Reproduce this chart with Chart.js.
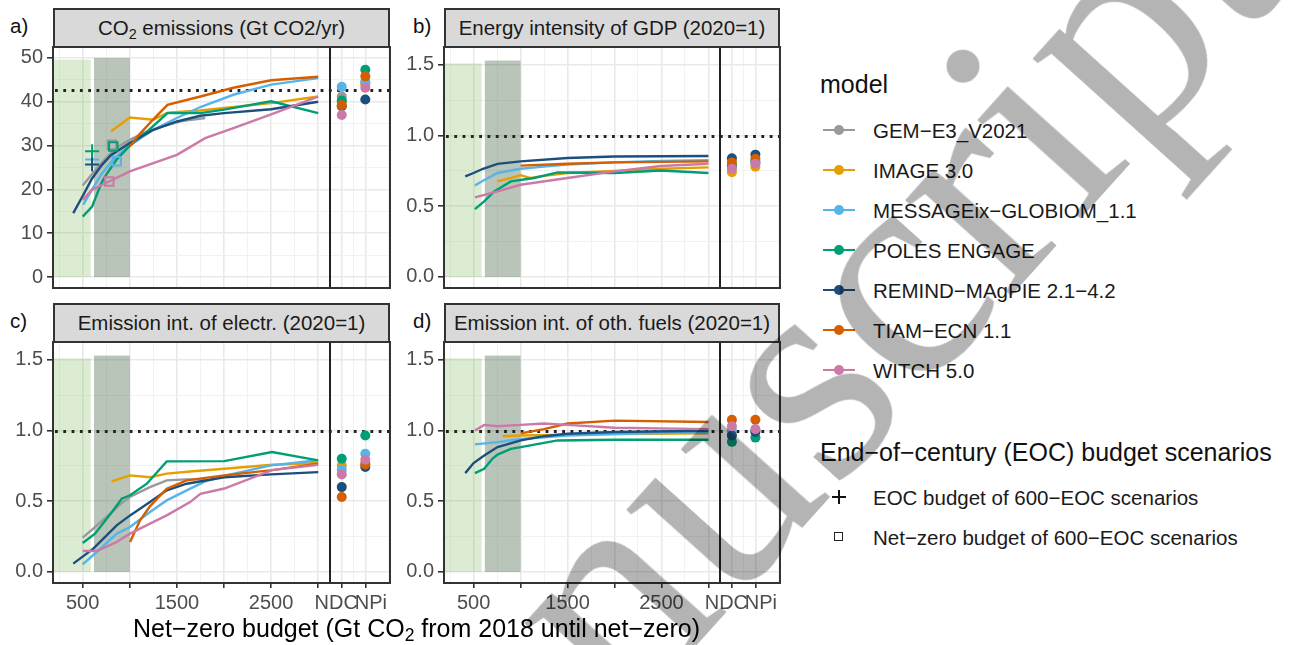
<!DOCTYPE html>
<html>
<head>
<meta charset="utf-8">
<script src="https://cdn.jsdelivr.net/npm/chart.js@4.4.1/dist/chart.umd.min.js"></script>
<style>
  html, body { margin: 0; padding: 0; background: #fff; }
  body { width: 1295px; height: 645px; position: relative; overflow: hidden;
         font-family: "Liberation Sans", Arial, sans-serif; }
  canvas { position: absolute; }
  sub { font-size: 0.7em; vertical-align: -0.25em; line-height: 0; }
  .strip { position: absolute; box-sizing: border-box; background: #d9d9d9;
           border: 2px solid #333; color: #1a1a1a; font-size: 20.5px;
           line-height: 35px; text-align: center; white-space: nowrap; }
  .tag { position: absolute; font-size: 20.5px; line-height: 20.5px; color: #111; }
  .axis-title { position: absolute; left: 53px; width: 727px; top: 615.5px; text-align: center;
                font-size: 25px; line-height: 25px; color: #000; white-space: nowrap; }
  .lg-title { position: absolute; left: 820px; font-size: 25px; line-height: 25px; color: #111; white-space: nowrap; }
  .lg-item { position: absolute; left: 873px; font-size: 20.5px; line-height: 20.5px; color: #1a1a1a; white-space: nowrap; }
  .lg-key { position: absolute; }
  .watermark { position: absolute; left: 756px; top: 423px; transform: translate(-50%, -50%) rotate(-48deg);
               font-family: "Liberation Serif", "DejaVu Serif", serif; font-size: 311px; line-height: 1;
               color: #b4b4b4; mix-blend-mode: multiply; white-space: nowrap; pointer-events: none; }
</style>
</head>
<body>

<div class="strip" style="left:53px;top:8px;width:337px;height:40px;">CO<sub>2</sub> emissions (Gt CO2/yr)</div>
<div class="strip" style="left:444px;top:8px;width:336px;height:40px;">Energy intensity of GDP (2020=1)</div>
<div class="strip" style="left:53px;top:303px;width:337px;height:40px;">Emission int. of electr. (2020=1)</div>
<div class="strip" style="left:444px;top:303px;width:336px;height:40px;">Emission int. of oth. fuels (2020=1)</div>

<div class="tag" style="left:10px;top:16px;">a)</div>
<div class="tag" style="left:413px;top:16px;">b)</div>
<div class="tag" style="left:10px;top:311px;">c)</div>
<div class="tag" style="left:413px;top:311px;">d)</div>

<canvas id="pA" width="393" height="281" style="left:0px;top:45px;"></canvas>
<canvas id="pB" width="392" height="281" style="left:391px;top:45px;"></canvas>
<canvas id="pC" width="393" height="281" style="left:0px;top:340px;"></canvas>
<canvas id="pD" width="392" height="281" style="left:391px;top:340px;"></canvas>

<div class="axis-title">Net−zero budget (Gt CO<sub>2</sub> from 2018 until net−zero)</div>

<div id="legend"></div>

<div class="watermark">manuscript</div>

<script>
// ---- models ----
const modelNames = ['GEM−E3_V2021', 'IMAGE 3.0', 'MESSAGEix−GLOBIOM_1.1', 'POLES ENGAGE',
                    'REMIND−MAgPIE 2.1−4.2', 'TIAM−ECN 1.1', 'WITCH 5.0'];
const modelColors = ['#999999', '#E69F00', '#56B4E9', '#009E73', '#1B4F7D', '#D55E00', '#CC79A7'];

// ---- x axis: net-zero budget, then the NDC / NPi reference scenarios ----
const xTickValues = [500, 1000, 1500, 2000, 2500, 3000, 3250, 3500];
const xTickLabels = ['500', '', '1500', '', '2500', '', 'NDC\u00a0\u00a0', '\u00a0\u00a0NPi'];
const xRange = [185, 3762];
const ndcX = 3250;
const npiX = 3500;
const dividerX = 3125;

// ---- shaded budget ranges (Gt CO2) ----
const lowBudgetRange = [-1000, 585];
const eocBudgetRange = [620, 1000];

// ---- y axes ----
const co2TickValues = [0, 10, 20, 30, 40, 50];
const co2TickLabels = ['0', '10', '20', '30', '40', '50'];
const co2Range = [-2.5, 52.5];
const co2ShadeTops = [49.6, 50];
const indexTickValues = [0, 0.5, 1.0, 1.5];
const indexTickLabels = ['0.0', '0.5', '1.0', '1.5'];
const indexRange = [-0.078, 1.626];
const indexShadeTops = [1.51, 1.53];

// ---- a) CO2 emissions (Gt CO2/yr) ----
const co2_GEM     = [[500,20.9],[600,23.5],[750,27.2],[860,29.5],[1000,31.3],[1150,32.9],[1350,34.4],[1550,35.6],[1800,36.3]];
const co2_IMAGE   = [[800,33.2],[1000,36.4],[1250,35.9],[1400,37.5],[1750,38.0],[2000,38.6],[2500,39.7],[3000,41.2]];
const co2_MESSAGE = [[506,16.5],[600,20.0],[700,23.5],[800,26.2],[900,28.3],[1000,30.0],[1250,33.6],[1500,36.3],[1750,38.8],[2100,41.6],[2500,43.9],[3000,45.4]];
const co2_POLES   = [[500,13.8],[600,16.1],[700,21.5],[760,23.7],[860,26.8],[1000,30.0],[1200,33.5],[1400,37.4],[1750,37.4],[2000,38.2],[2500,40.1],[3000,37.4]];
const co2_REMIND  = [[400,14.6],[500,18.5],[600,22.5],[700,25.5],[800,27.8],[1000,30.6],[1250,33.6],[1500,35.5],[1750,36.8],[2000,37.4],[2500,38.3],[3000,40.0]];
const co2_TIAM    = [[1000,29.8],[1100,32.5],[1250,36.0],[1400,39.3],[1750,41.2],[2100,43.2],[2500,44.9],[3000,45.7]];
const co2_WITCH   = [[500,17.6],[600,19.9],[700,21.0],[780,21.8],[1000,24.1],[1250,26.0],[1500,27.9],[1800,31.7],[2100,34.0],[2500,37.1],[3000,41.2]];
const co2_NDC     = [41.2, 40.0, 43.4, 40.3, 39.0, 39.2, 37.0];
const co2_NPi     = [44.3, 44.0, 44.6, 47.3, 40.5, 45.8, 43.2];
const co2_eocBudget = 600;
const co2_eocCross  = [null, null, 26.8, 28.7, 25.7, null, null];
const co2_nzBudget  = [810, null, 861, 825, null, null, 782];
const co2_nzValue   = [30.2, null, 26.4, 29.8, null, null, 21.8];
const co2Reference  = 42.8;

// ---- b) energy intensity of GDP (2020=1) ----
const ei_GEM     = [];
const ei_IMAGE   = [[755,0.676],[900,0.70],[1000,0.72],[1100,0.70],[1250,0.715],[1500,0.735],[2000,0.75],[2500,0.765],[3000,0.775]];
const ei_MESSAGE = [[514,0.647],[600,0.68],[755,0.735],[1000,0.765],[1250,0.78],[1500,0.795],[2000,0.81],[2500,0.82],[3000,0.825]];
const ei_POLES   = [[514,0.48],[613,0.534],[720,0.605],[897,0.676],[1145,0.70],[1394,0.739],[2000,0.735],[2493,0.753],[3000,0.735]];
const ei_REMIND  = [[411,0.711],[500,0.735],[600,0.765],[755,0.80],[1000,0.817],[1500,0.841],[2000,0.852],[3000,0.855]];
const ei_TIAM    = [[1000,0.787],[1500,0.80],[2000,0.81],[3000,0.817]];
const ei_WITCH   = [[514,0.563],[755,0.605],[1000,0.652],[1500,0.70],[2000,0.747],[2493,0.785],[3000,0.80]];
const ei_NDC     = [null, 0.74, 0.78, 0.79, 0.84, 0.81, 0.765];
const ei_NPi     = [null, 0.78, 0.82, 0.81, 0.865, 0.835, 0.80];

// ---- c) emission intensity of electricity (2020=1) ----
const el_GEM     = [[500,0.243],[600,0.30],[790,0.41],[900,0.48],[1000,0.53],[1214,0.60],[1392,0.648],[1600,0.655],[1800,0.655]];
const el_IMAGE   = [[808,0.64],[1003,0.683],[1214,0.67],[1392,0.695],[1640,0.71],[2003,0.73],[2510,0.758],[3000,0.77]];
const el_MESSAGE = [[500,0.054],[649,0.141],[861,0.271],[1003,0.318],[1214,0.424],[1392,0.506],[1604,0.577],[1800,0.64],[2000,0.68],[2500,0.754],[3000,0.79]];
const el_POLES   = [[500,0.205],[631,0.271],[825,0.436],[914,0.518],[1003,0.542],[1181,0.624],[1392,0.782],[2003,0.784],[2510,0.848],[3000,0.789]];
const el_REMIND  = [[400,0.059],[613,0.165],[861,0.33],[1003,0.40],[1214,0.494],[1392,0.577],[1604,0.624],[2003,0.67],[2500,0.69],[3000,0.706]];
const el_TIAM    = [[1003,0.212],[1109,0.365],[1214,0.464],[1392,0.589],[1604,0.648],[2003,0.683],[2510,0.72],[3000,0.766]];
const el_WITCH   = [[500,0.148],[649,0.148],[861,0.212],[1003,0.271],[1214,0.342],[1392,0.40],[1640,0.494],[1750,0.553],[2003,0.59],[2510,0.72],[3000,0.757]];
const el_NDC     = [null, 0.753, 0.723, 0.80, 0.60, 0.53, 0.69];
const el_NPi     = [null, 0.77, 0.836, 0.965, 0.742, 0.76, 0.794];

// ---- d) emission intensity of other fuels (2020=1) ----
const of_GEM     = [];
const of_IMAGE   = [[808,0.96],[1003,0.965],[2000,0.975],[3000,0.98]];
const of_MESSAGE = [[514,0.902],[755,0.918],[1003,0.94],[1500,0.965],[2000,0.975],[3000,0.99]];
const of_POLES   = [[514,0.699],[613,0.73],[700,0.80],[755,0.83],[897,0.87],[1003,0.883],[1394,0.93],[2003,0.935],[3000,0.935]];
const of_REMIND  = [[411,0.699],[500,0.77],[613,0.824],[755,0.883],[1003,0.93],[1250,0.96],[1500,0.977],[2003,0.99],[3000,0.998]];
const of_TIAM    = [[1003,0.98],[1250,1.01],[1500,1.05],[2003,1.07],[3000,1.06]];
const of_WITCH   = [[514,1.0],[613,1.04],[755,1.03],[1003,1.04],[1250,1.05],[1500,1.04],[2003,1.02],[3000,1.01]];
const of_NDC     = [null, 0.99, 1.0, 0.92, 0.965, 1.076, 1.03];
const of_NPi     = [null, 1.0, 1.0, 0.95, 0.99, 1.076, 1.01];
const indexReference = 1.0;

// ---------------------------------------------------------------------------
Chart.defaults.font.family = '"Liberation Sans", Arial, sans-serif';
Chart.defaults.font.size = 20;
Chart.defaults.color = '#4d4d4d';

// midpoints between major breaks, extended one step beyond each end
function minorBreaks(major, range) {
  const b = major.slice();
  const step = b[1] - b[0];
  b.unshift(b[0] - step);
  b.push(b[b.length - 1] + step);
  const out = [];
  for (let i = 0; i < b.length - 1; i++) out.push((b[i] + b[i + 1]) / 2);
  return out.filter(v => v > range[0] && v < range[1]);
}

function tickList(major, range) {
  const ticks = major.map(v => ({ value: v, major: true }))
    .concat(minorBreaks(major, range).map(v => ({ value: v, major: false })));
  ticks.sort((a, b) => a.value - b.value);
  return ticks;
}

function isMajorValue(major, v) {
  return major.some(m => Math.abs(m - v) < 1e-9);
}

// shading, reference line, scenario divider and panel frame
const panelDeco = {
  id: 'panelDeco',
  beforeDatasetsDraw(chart, args, opts) {
    const { ctx, chartArea: a, scales: { x, y } } = chart;
    ctx.save();
    ctx.beginPath();
    ctx.rect(a.left, a.top, a.right - a.left, a.bottom - a.top);
    ctx.clip();
    const y0 = y.getPixelForValue(0);
    const lx0 = Math.max(a.left, x.getPixelForValue(lowBudgetRange[0]));
    const lx1 = x.getPixelForValue(lowBudgetRange[1]);
    const ly = y.getPixelForValue(opts.shadeTops[0]);
    ctx.fillStyle = 'rgba(110,180,80,0.25)';
    ctx.fillRect(lx0, ly, lx1 - lx0, y0 - ly);
    const dx0 = x.getPixelForValue(eocBudgetRange[0]);
    const dx1 = x.getPixelForValue(eocBudgetRange[1]);
    const dy = y.getPixelForValue(opts.shadeTops[1]);
    ctx.fillStyle = 'rgba(40,80,40,0.33)';
    ctx.fillRect(dx0, dy, dx1 - dx0, y0 - dy);

    const ry = Math.round(y.getPixelForValue(opts.reference)) + 0.5;
    ctx.strokeStyle = '#222';
    ctx.lineWidth = 2.8;
    ctx.setLineDash([2.8, 5.5]);
    ctx.beginPath();
    ctx.moveTo(a.left + 2, ry);
    ctx.lineTo(a.right, ry);
    ctx.stroke();

    ctx.setLineDash([]);
    ctx.lineWidth = 2;
    const vx = Math.round(x.getPixelForValue(dividerX));
    ctx.beginPath();
    ctx.moveTo(vx, a.top);
    ctx.lineTo(vx, a.bottom);
    ctx.stroke();
    ctx.restore();
  },
  afterDraw(chart) {
    const { ctx, chartArea: a } = chart;
    ctx.save();
    ctx.strokeStyle = '#333';
    ctx.lineWidth = 2;
    ctx.strokeRect(a.left, a.top, a.right - a.left, a.bottom - a.top);
    ctx.restore();
  }
};

function toPoints(pairs) {
  return pairs.map(([x, y]) => ({ x, y }));
}

// size and move the canvas so that its plot area covers the given page rectangle
function placePanel(chart, L, T, R, B) {
  for (let k = 0; k < 3; k++) {
    const a = chart.chartArea;
    const w = Math.round(chart.width + ((R - L) - (a.right - a.left)));
    const h = Math.round(chart.height + ((B - T) - (a.bottom - a.top)));
    if (w === chart.width && h === chart.height) break;
    chart.resize(w, h);
  }
  const a = chart.chartArea;
  chart.canvas.style.left = (L - a.left) + 'px';
  chart.canvas.style.top = (T - a.top) + 'px';
}

function makePanel(canvasId, rect, series, ndc, npi, yCfg, showX, extra) {
  const datasets = [];
  series.forEach((pairs, i) => {
    if (!pairs.length) return;
    datasets.push({
      type: 'line', data: toPoints(pairs), borderColor: modelColors[i], borderWidth: 2.4,
      pointRadius: 0, tension: 0, fill: false, order: 200 - i
    });
  });
  modelNames.forEach((name, i) => {
    const pts = [];
    if (ndc[i] !== null) pts.push({ x: ndcX, y: ndc[i] });
    if (npi[i] !== null) pts.push({ x: npiX, y: npi[i] });
    if (!pts.length) return;
    datasets.push({
      type: 'scatter', data: pts, backgroundColor: modelColors[i], borderWidth: 0,
      pointRadius: 5, pointHoverRadius: 5, order: 100 - i
    });
  });
  if (extra) extra.forEach(d => datasets.push(d));

  const xTicks = tickList(xTickValues, xRange);
  const yTicks = tickList(yCfg.values, yCfg.range);
  const xMajor = c => c.tick && isMajorValue(xTickValues, c.tick.value);
  const yMajor = c => c.tick && isMajorValue(yCfg.values, c.tick.value);

  const chart = new Chart(document.getElementById(canvasId), {
    data: { datasets },
    plugins: [panelDeco],
    options: {
      responsive: false, maintainAspectRatio: false, animation: false, devicePixelRatio: 1, events: [],
      layout: { padding: { left: 0, right: 3, top: 2, bottom: 0 } },
      plugins: {
        legend: { display: false }, tooltip: { enabled: false },
        panelDeco: { reference: yCfg.reference, shadeTops: yCfg.shadeTops }
      },
      scales: {
        x: {
          type: 'linear', min: xRange[0], max: xRange[1],
          afterBuildTicks: s => { s.ticks = xTicks.map(t => ({ value: t.value })); },
          afterFit: s => { s.height = 38; s.paddingLeft = 0; s.paddingRight = 0; },
          ticks: {
            display: true, autoSkip: false, maxRotation: 0, minRotation: 0, padding: 3,
            color: '#4d4d4d', font: { size: 20 },
            callback: (v) => {
              if (!showX) return '';
              const k = xTickValues.indexOf(v);
              return k >= 0 ? xTickLabels[k] : '';
            }
          },
          grid: {
            drawTicks: true, tickLength: 5, offset: false,
            color: c => xMajor(c) ? '#e9e9e9' : '#f1f1f1',
            lineWidth: c => xMajor(c) ? 1.6 : 0.9,
            tickColor: c => (showX && xMajor(c)) ? '#333' : 'rgba(0,0,0,0)',
            tickWidth: 1.6
          },
          border: { display: false }
        },
        y: {
          type: 'linear', min: yCfg.range[0], max: yCfg.range[1],
          afterBuildTicks: s => { s.ticks = yTicks.map(t => ({ value: t.value })); },
          afterFit: s => { s.width = 53; s.paddingTop = 0; s.paddingBottom = 0; },
          ticks: {
            autoSkip: false, padding: 4, color: '#4d4d4d', font: { size: 20 },
            callback: (v) => {
              const k = yCfg.values.findIndex(m => Math.abs(m - v) < 1e-9);
              return k >= 0 ? yCfg.labels[k] : '';
            }
          },
          grid: {
            drawTicks: true, tickLength: 6, offset: false,
            color: c => yMajor(c) ? '#e9e9e9' : '#f1f1f1',
            lineWidth: c => yMajor(c) ? 1.6 : 0.9,
            tickColor: c => yMajor(c) ? '#333' : 'rgba(0,0,0,0)',
            tickWidth: 1.6
          },
          border: { display: false }
        }
      }
    }
  });
  placePanel(chart, rect[0], rect[1], rect[2], rect[3]);
  return chart;
}

const co2Axis = { values: co2TickValues, labels: co2TickLabels, range: co2Range, reference: co2Reference, shadeTops: co2ShadeTops };
const indexAxis = { values: indexTickValues, labels: indexTickLabels, range: indexRange, reference: indexReference, shadeTops: indexShadeTops };

// EOC budget crosses and net-zero budget squares of the 600-EOC scenarios
const co2Markers = [];
modelNames.forEach((name, i) => {
  if (co2_eocCross[i] !== null) {
    co2Markers.push({
      type: 'scatter', data: [{ x: co2_eocBudget, y: co2_eocCross[i] }], pointStyle: 'cross',
      pointRadius: 7, borderColor: modelColors[i], borderWidth: 2, backgroundColor: modelColors[i], order: 50 - i
    });
  }
  if (co2_nzValue[i] !== null) {
    co2Markers.push({
      type: 'scatter', data: [{ x: co2_nzBudget[i], y: co2_nzValue[i] }], pointStyle: 'rect',
      pointRadius: 6, borderColor: modelColors[i], borderWidth: 2, backgroundColor: 'rgba(0,0,0,0)', order: 50 - i
    });
  }
});

makePanel('pA', [53, 47, 390, 288], [co2_GEM, co2_IMAGE, co2_MESSAGE, co2_POLES, co2_REMIND, co2_TIAM, co2_WITCH],
          co2_NDC, co2_NPi, co2Axis, false, co2Markers);
makePanel('pB', [444, 47, 780, 288], [ei_GEM, ei_IMAGE, ei_MESSAGE, ei_POLES, ei_REMIND, ei_TIAM, ei_WITCH],
          ei_NDC, ei_NPi, indexAxis, false);
makePanel('pC', [53, 342, 390, 583], [el_GEM, el_IMAGE, el_MESSAGE, el_POLES, el_REMIND, el_TIAM, el_WITCH],
          el_NDC, el_NPi, indexAxis, true);
makePanel('pD', [444, 342, 780, 583], [of_GEM, of_IMAGE, of_MESSAGE, of_POLES, of_REMIND, of_TIAM, of_WITCH],
          of_NDC, of_NPi, indexAxis, true);

// ---- legends ----
const legend = document.getElementById('legend');
function addEl(tag, cls, style, html) {
  const el = document.createElement(tag);
  if (cls) el.className = cls;
  el.setAttribute('style', style);
  if (html !== undefined) el.innerHTML = html;
  legend.appendChild(el);
  return el;
}
addEl('div', 'lg-title', 'top:72px;', 'model');
modelNames.forEach((name, i) => {
  const cy = 130 + i * 40;
  addEl('div', 'lg-item', 'top:' + (cy - 9.5) + 'px;', name);
  addEl('div', 'lg-key', 'left:823px;top:' + (cy - 1) + 'px;width:32px;height:2.3px;background:' + modelColors[i] + ';');
  addEl('div', 'lg-key', 'left:834px;top:' + (cy - 5) + 'px;width:10px;height:10px;border-radius:50%;background:' + modelColors[i] + ';');
});
addEl('div', 'lg-title', 'top:440px;', 'End−of−century (EOC) budget scenarios');
addEl('div', 'lg-item', 'top:487.5px;', 'EOC budget of 600−EOC scenarios');
addEl('div', 'lg-item', 'top:527.5px;', 'Net−zero budget of 600−EOC scenarios');
addEl('div', 'lg-key', 'left:832px;top:496px;width:14px;height:2px;background:#111;');
addEl('div', 'lg-key', 'left:838px;top:490px;width:2px;height:14px;background:#111;');
addEl('div', 'lg-key', 'left:834px;top:532px;width:7px;height:7px;border:1.6px solid #222;');
</script>
</body>
</html>
